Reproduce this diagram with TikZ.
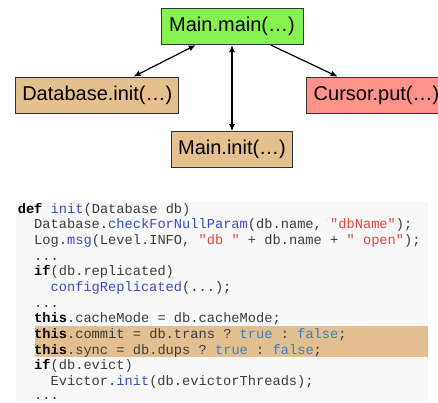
\documentclass[tikz,border=0pt]{standalone}
\usepackage{fontspec}
\setmainfont{Liberation Sans}
\setmonofont{Liberation Mono}
\usetikzlibrary{arrows.meta}

\definecolor{maingreen}{HTML}{86F250}
\definecolor{inittan}{HTML}{E5C08F}
\definecolor{putred}{HTML}{FF928B}
\definecolor{codebg}{HTML}{F8F8F8}
\definecolor{hilite}{HTML}{E3BF8F}
\definecolor{codegray}{HTML}{3C3C3C}
\definecolor{mthblue}{HTML}{3A4CBF}
\definecolor{strred}{HTML}{E0463A}
\definecolor{boolblue}{HTML}{3A80C0}

\newcommand{\kwd}[1]{\textbf{\color{black}#1}}
\newcommand{\mth}[1]{{\color{mthblue}#1}}
\newcommand{\strg}[1]{{\color{strred}#1}}
\newcommand{\boolv}[1]{{\color{boolblue}#1}}

\tikzset{
  call/.style={draw=black!80, line width=0.8pt, minimum height=36pt, inner sep=0pt,
    font=\fontsize{20}{24}\selectfont},
  link/.style={line width=1.2pt, >={Latex[length=7pt,width=6pt]}},
  code/.style={anchor=base west, inner sep=0pt, text=codegray,
    font=\ttfamily\fontsize{13.7}{16}\selectfont},
}

\begin{document}
\begin{tikzpicture}[x=1pt, y=-1pt]
    \clip (0,0) rectangle (438,402);
    \fill[white] (0,0) rectangle (438,402);
    % call graph
    \node[call, fill=maingreen, minimum width=142pt] (mainmain) at (232,26.7) {Main.main(…)};
    \node[call, fill=inittan, minimum width=163pt] (dbinit) at (97.3,95) {Database.init(…)};
    \node[call, fill=putred, minimum width=140pt] (cursorput) at (376.5,95) {Cursor.put(…)};
    \node[call, fill=inittan, minimum width=121pt] (maininit) at (232,149.5) {Main.init(…)};
    \draw[link, <->] (dbinit) -- (mainmain);
    \draw[link, <->] (mainmain) -- (maininit);
    \draw[link, ->] (mainmain) -- (cursorput);
    % code listing
    \fill[codebg] (16,202) rectangle (428,402);
    \fill[hilite] (35,326) rectangle (428,357);
    \node[code] (l0) at (17.6,213) {\kwd{def} \mth{init}(Database db)};
    \node[code] (l1) at (34,228.7) {Database.\mth{checkForNullParam}(db.name, \strg{"dbName"});};
    \node[code] (l2) at (34,244.3) {Log.\mth{msg}(Level.INFO, \strg{"db "} + db.name + \strg{" open"});};
    \node[code] (l3) at (34,260) {...};
    \node[code] (l4) at (34,275.7) {\kwd{if}(db.replicated)};
    \node[code] (l5) at (50.4,291.4) {\mth{configReplicated}(...);};
    \node[code] (l6) at (34,307) {...};
    \node[code] (l7) at (34,322.7) {\kwd{this}.cacheMode = db.cacheMode;};
    \node[code] (l8) at (34,338.4) {\kwd{this}.commit = db.trans ? \boolv{true} : \boolv{false};};
    \node[code] (l9) at (34,354) {\kwd{this}.sync = db.dups ? \boolv{true} : \boolv{false};};
    \node[code] (l10) at (34,369.7) {\kwd{if}(db.evict)};
    \node[code] (l11) at (50.4,385.4) {Evictor.\mth{init}(db.evictorThreads);};
    \node[code] (l12) at (34,399.5) {...};
\end{tikzpicture}
\end{document}
